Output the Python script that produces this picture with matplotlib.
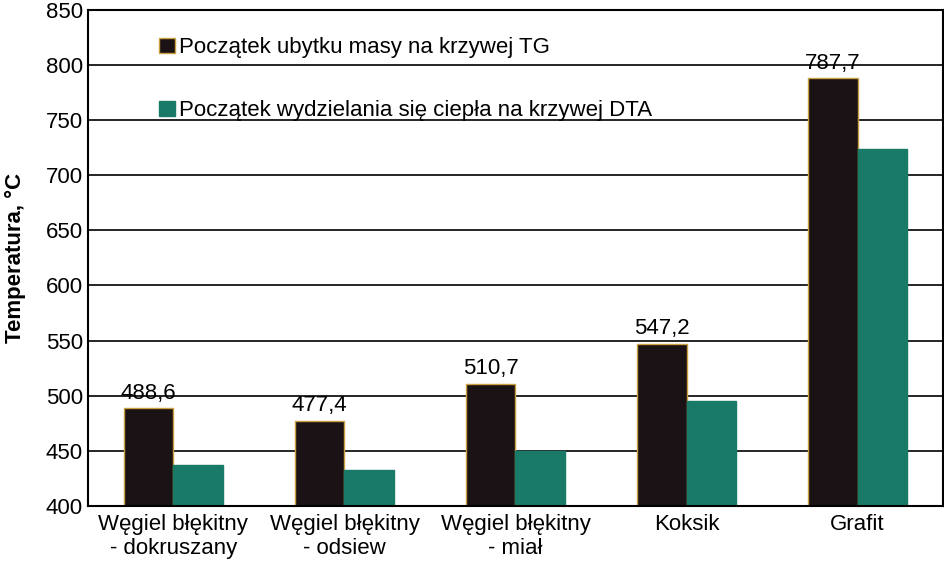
import matplotlib
matplotlib.use('Agg')
import matplotlib.pyplot as plt
import numpy as np

plt.rcParams['font.family'] = 'Liberation Sans'

categories = ['Węgiel błękitny\n- dokruszany', 'Węgiel błękitny\n- odsiew',
              'Węgiel błękitny\n- miał', 'Koksik', 'Grafit']
tg_start = [488.6, 477.4, 510.7, 547.2, 787.7]
dta_start = [437, 433, 450, 495, 724]
tg_labels = ['488,6', '477,4', '510,7', '547,2', '787,7']

fig = plt.figure(figsize=(9.45, 5.73), dpi=100)
ax = fig.add_axes([0.093, 0.117, 0.905, 0.866])

x = np.arange(len(categories))
w = 0.29
ax.bar(x - w/2, tg_start, w, color='#1a1214', edgecolor='#c8a040', linewidth=1,
       label='Początek ubytku masy na krzywej TG')
ax.bar(x + w/2, dta_start, w, color='#1a7a68', edgecolor='#1a7a68', linewidth=1,
       label='Początek wydzielania się ciepła na krzywej DTA')
for xi, v, t in zip(x, tg_start, tg_labels):
    ax.text(xi - w/2, v + 4, t, ha='center', va='bottom', fontsize=16)

ax.set_ylim(400, 850)
ax.set_xlim(-0.5, 4.5)
ax.set_yticks(np.arange(400, 851, 50))
ax.yaxis.grid(True, color='black', linewidth=1.2)
ax.set_axisbelow(True)
ax.set_xticks(x)
ax.set_xticklabels(categories, fontsize=16)
ax.tick_params(axis='y', labelsize=16, length=0)
ax.tick_params(axis='x', length=0, pad=6)
ax.set_ylabel('Temperatura, °C', fontsize=16, fontweight='bold', labelpad=14)
for s in ax.spines.values():
    s.set_linewidth(1.5)
ax.legend(loc='upper left', bbox_to_anchor=(0.06, 0.985), frameon=False, fontsize=16,
          handlelength=0.7, handleheight=0.7, labelspacing=1.9, handletextpad=0.2)

fig.savefig('out.png', dpi=100)
